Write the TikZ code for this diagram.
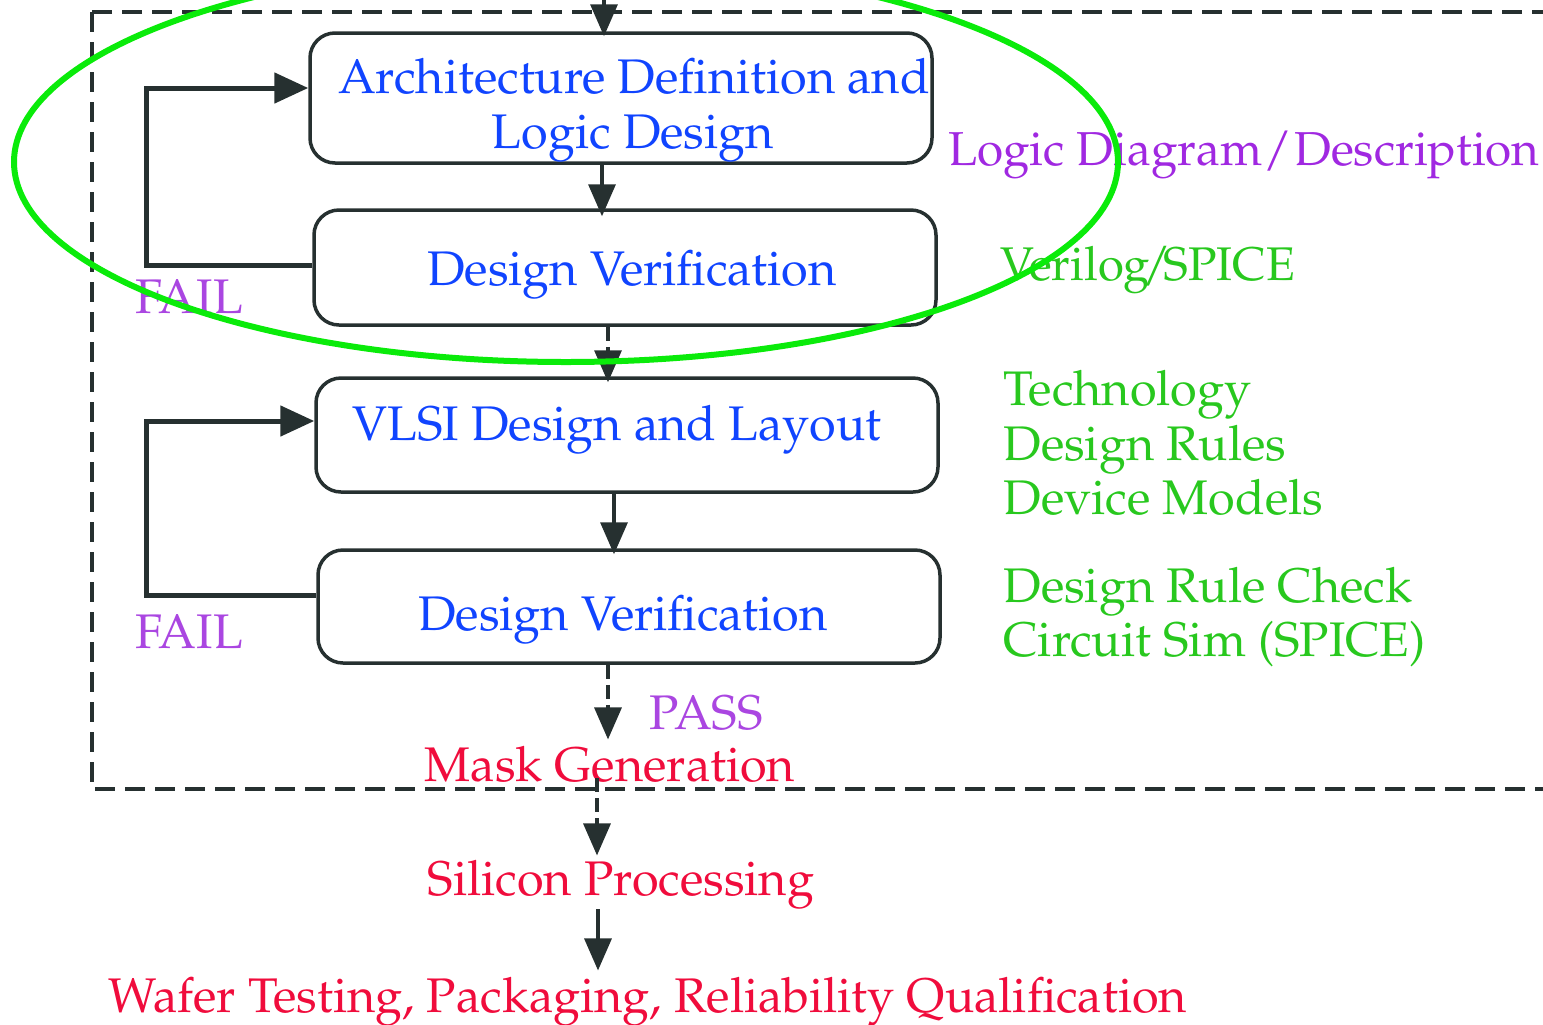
\documentclass[tikz,border=0pt]{standalone}
\usepackage[T1]{fontenc}
\renewcommand{\rmdefault}{ppl}
\usetikzlibrary{arrows.meta}
\definecolor{ink}{RGB}{38,48,48}
\definecolor{stageblue}{RGB}{16,68,255}
\definecolor{notepurple}{RGB}{160,40,225}
\definecolor{failpurple}{RGB}{170,70,225}
\definecolor{notegreen}{RGB}{40,200,30}
\definecolor{fabred}{RGB}{240,12,60}
\definecolor{ringgreen}{RGB}{10,235,10}
\begin{document}
\begin{tikzpicture}[x=0.5pt,y=-0.5pt,
  every node/.style={font=\fontsize{24.3}{28}\selectfont, inner sep=0pt},
  stage/.style={draw=ink, line width=1.75pt, rounded corners=12.5pt,
    minimum width=311pt, inner sep=0pt},
  stagetext/.style={anchor=base, text=stageblue},
  note/.style={anchor=base west, align=left},
  fabtext/.style={anchor=base, text=fabred},
  flow/.style={draw=ink, line width=1.7pt,
    -{Triangle[length=16pt,width=13.5pt]}},
  brokenflow/.style={flow, dash pattern=on 7pt off 3pt},
  failloop/.style={draw=ink, line width=2.5pt,
    -{Triangle[length=17pt,width=15pt]}},
  frame/.style={draw=ink, line width=1.6pt, dash pattern=on 10pt off 5pt}]
\useasboundingbox (0,0) rectangle (1543,1024);
\clip (0,0) rectangle (1543,1024);

% design flow frame (runs past the right edge)
\draw[frame] (92,12) rectangle (1620,789);

% stage boxes
\node[stage, minimum height=65pt]   (box1) at (621,98)    {};
\node[stage, minimum height=57.5pt] (box2) at (625,267.5) {};
\node[stage, minimum height=57pt]   (box3) at (627,435)   {};
\node[stage, minimum height=56.5pt] (box4) at (629,606.5) {};

% stage titles
\node[stagetext] (t1a) at (634,93)  {Architecture Definition and};
\node[stagetext] (t1b) at (633,148) {Logic Design};
\node[stagetext] (t2)  at (632,285) {Design Verification};
\node[stagetext] (t3)  at (617,440) {VLSI Design and Layout};
\node[stagetext] (t4)  at (623,630) {Design Verification};

% side notes
\node[note, text=notepurple, font=\fontsize{23.8}{28}\selectfont] (n1) at (948,165)
  {Logic Diagram\kern0.5pt/\kern1pt Description};
\node[note, text=notegreen, font=\fontsize{23.6}{28}\selectfont] (n2) at (1000,280)
  {Verilog\kern-4pt/\kern-3.5pt SPICE};
\node[note, text=notegreen]  (n3) at (1003,405) {Technology};
\node[note, text=notegreen]  (n4) at (1003,460) {Design Rules};
\node[note, text=notegreen]  (n5) at (1003,514) {Device Models};
\node[note, text=notegreen]  (n6) at (1003,602) {Design Rule Check};
\node[note, text=notegreen]  (n7) at (1003,656) {Circuit Sim (SPICE)};

% verdicts
\node[anchor=base, text=failpurple] (fail1) at (189,313) {FAIL};
\node[anchor=base, text=failpurple] (fail2) at (189,648) {FAIL};
\node[anchor=base, text=failpurple] (pass)  at (706,729) {PASS};

% fabrication steps
\node[fabtext] (mask)  at (610,781)  {Mask Generation};
\node[fabtext] (si)    at (621,895)  {Silicon Processing};
\node[fabtext] (wafer) at (648,1012) {Wafer Testing, Packaging, Reliability Qualification};

% connector columns
\coordinate (in0) at (604,-4);
\coordinate (c12) at (602,0);
\coordinate (c23) at (608,0);
\coordinate (c34) at (614,0);
\coordinate (c4m) at (608,0);
\coordinate (cms) at (597,0);
\coordinate (csw) at (598,0);

\draw[flow, shorten >=-2.5pt] (in0) -- (in0 |- box1.north);
\draw[flow, shorten >=-4pt] (box1.south -| c12) -- (box2.north -| c12);
\draw[brokenflow, shorten >=-3pt] (box2.south -| c23) -- (box3.north -| c23);
\draw[flow, shorten >=-3pt] (box3.south -| c34) -- (box4.north -| c34);
\draw[brokenflow, shorten >=3pt] (box4.south -| c4m) -- (mask.north -| c4m);
\draw[brokenflow, shorten <=-2pt, shorten >=2pt] (mask.south -| cms) -- (si.north -| cms);
\draw[flow, shorten >=3pt] (si.south -| csw) -- (wafer.north -| csw);

% fail loops
\coordinate (fa1) at (146,265);
\coordinate (fb1) at (146,88);
\coordinate (fa2) at (146,595);
\coordinate (fb2) at (146,421);
\draw[failloop] (fa1 -| box2.west) -- (fa1) -- (fb1) -- (fb1 -| box1.west);
\draw[failloop] (fa2 -| box4.west) -- (fa2) -- (fb2) -- (fb2 -| box3.west);

% highlight ring
\draw[ringgreen, line width=3pt] (566,162) ellipse [x radius=552, y radius=200];
\end{tikzpicture}
\end{document}
